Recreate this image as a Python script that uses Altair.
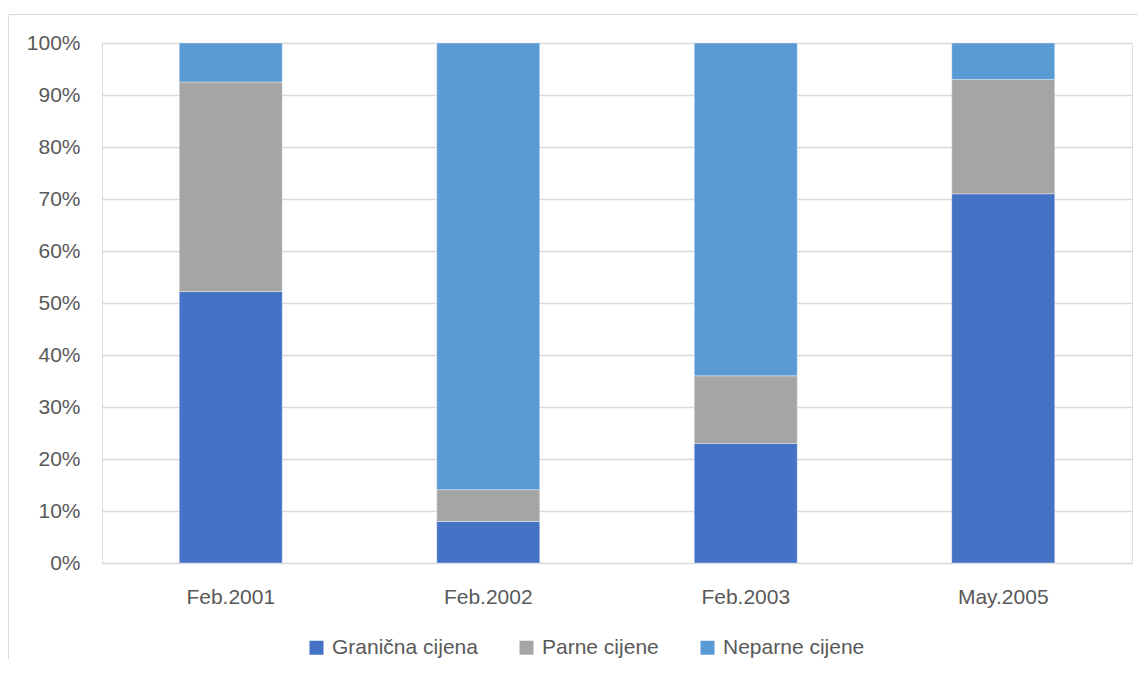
import altair as alt
import pandas as pd

categories = ["Feb.2001", "Feb.2002", "Feb.2003", "May.2005"]
series = ["Granična cijena", "Parne cijene", "Neparne cijene"]
granicna = [52.2, 8.0, 23.0, 71.0]
parne = [40.3, 6.1, 13.0, 22.0]
neparne = [7.5, 85.9, 64.0, 7.0]
colors = ["#4472C4", "#A5A5A5", "#5B9BD5"]
y_ticks = [0, 0.1, 0.2, 0.3, 0.4, 0.5, 0.6, 0.7, 0.8, 0.9, 1.0]

rows = []
for i, c in enumerate(categories):
    for j, (s, vals) in enumerate(zip(series, [granicna, parne, neparne])):
        rows.append({"Datum": c, "Serija": s, "Vrijednost": vals[i], "red": j})
df = pd.DataFrame(rows)

FONT = "Liberation Sans"
TXT = "#595959"
FS = 21

bars = alt.Chart(df).mark_bar(stroke="white", strokeWidth=0.6, strokeOpacity=0.6).encode(
    x=alt.X("Datum:N", sort=categories, title=None,
            scale=alt.Scale(paddingInner=0.6, paddingOuter=0.3),
            axis=alt.Axis(labelAngle=0, ticks=False, domain=False, labelPadding=23,
                          labelFont=FONT, labelFontSize=FS, labelColor=TXT)),
    y=alt.Y("Vrijednost:Q", stack="normalize", title=None,
            scale=alt.Scale(domain=[0, 1], nice=False),
            axis=alt.Axis(values=y_ticks, format=".0%", ticks=False, domain=False,
                          labelPadding=22, labelFont=FONT, labelFontSize=FS, labelColor=TXT,
                          grid=True, gridColor="#d9d9d9", gridWidth=1.3)),
    color=alt.Color("Serija:N", sort=series,
                    scale=alt.Scale(domain=series, range=colors),
                    legend=alt.Legend(title=None, orient="none", direction="horizontal",
                                      legendX=204, legendY=594,
                                      symbolType="square", symbolSize=196,
                                      symbolStrokeWidth=0, labelFont=FONT,
                                      labelFontSize=FS, labelColor=TXT,
                                      labelOffset=5, columnPadding=38)),
    order=alt.Order("red:Q", sort="ascending"),
)

one = pd.DataFrame({"a": [0]})
border_left = alt.Chart(one).mark_rule(color="#d9d9d9", strokeWidth=1).encode(
    x=alt.value(-93.5), y=alt.value(-28.5), y2=alt.value(700),
)
border_top = alt.Chart(one).mark_rule(color="#d9d9d9", strokeWidth=1).encode(
    x=alt.value(-93.5), x2=alt.value(1100), y=alt.value(-28.5),
)

chart = alt.layer(border_left, border_top, bars).properties(
    width=1030, height=520,
    autosize=alt.AutoSizeParams(type="none"),
    padding={"left": 94, "top": 35, "right": 6, "bottom": 96},
).configure_view(stroke=None).configure(background="white")

chart.save("out.html", embed_options={"renderer": "svg", "actions": False})
